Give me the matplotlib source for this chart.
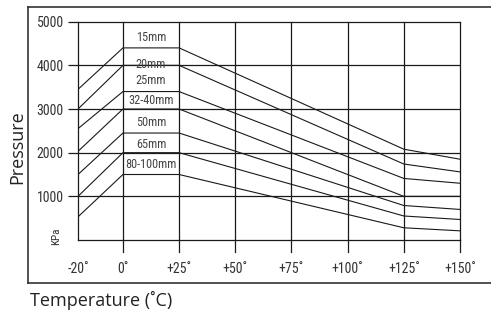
import matplotlib.pyplot as plt
from matplotlib.lines import Line2D

# temperature points (deg C)
temps = [-20, 0, 25, 125, 150]
tick_temps = [-20, 0, 25, 50, 75, 100, 125, 150]
tick_labels = ["-20˚", "0˚", "+25˚", "+50˚", "+75˚", "+100˚", "+125˚", "+150˚"]

# pressure (kPa) per pipe size
sizes = ["15mm", "20mm", "25mm", "32-40mm", "50mm", "65mm", "80-100mm"]
p_15 = [3450, 4400, 4400, 2080, 1850]
p_20 = [3000, 4000, 4000, 1740, 1560]
p_25 = [2550, 3400, 3400, 1410, 1300]
p_32 = [2030, 3000, 3000, 1000, 1000]
p_50 = [1500, 2450, 2450, 790, 700]
p_65 = [1000, 2000, 2000, 550, 470]
p_80 = [530, 1500, 1500, 280, 210]
series = [p_15, p_20, p_25, p_32, p_50, p_65, p_80]
label_y = [4630, 4030, 3660, 3190, 2700, 2180, 1720]

cond = ["Roboto Condensed", "DejaVu Sans"]
txt = "#333333"

fig = plt.figure(figsize=(4.91, 3.14), dpi=100)
ax = fig.add_axes([78 / 491, 1 - 240 / 314, 382 / 491, 218.3 / 314])

for vals in series:
    ax.plot(temps, vals, color="#1a1a1a", lw=0.8)

for t in tick_temps[1:-1]:
    ax.plot([t, t], [-275, 5000], color="#1a1a1a", lw=0.9, clip_on=False)
ax.plot([150, 150], [-275, 0], color="#1a1a1a", lw=0.9, clip_on=False)
for p in [1000, 2000, 3000, 4000]:
    ax.axhline(p, color="#1a1a1a", lw=0.9)

for s, y in zip(sizes, label_y):
    ax.text(12.5, y, s, ha="center", va="center", fontsize=8.8,
            family=cond, color="#444444")

ax.set_xlim(-20, 150)
ax.set_ylim(0, 5000)
for sp in ax.spines.values():
    sp.set_color("#1a1a1a")
    sp.set_linewidth(0.9)

ax.set_xticks(tick_temps)
ax.set_xticklabels(tick_labels, family=cond, fontsize=10, color=txt)
ax.tick_params(axis="x", length=0, pad=15.5)
ax.set_yticks([1000, 2000, 3000, 4000, 5000])
ax.set_yticklabels(["1000", "2000", "3000", "4000", "5000"], family=cond,
                   fontsize=10, color=txt)
ax.tick_params(axis="y", length=7.2, width=0.9, color="#1a1a1a", pad=3)

ax.text(-29.8, 75, "KPa", rotation=90, ha="center", va="center",
        fontsize=8, family=cond, color=txt, clip_on=False)

# outer frame, open on the right
fc = "#333333"
fig.add_artist(Line2D([28 / 491, 28 / 491], [1 - 283 / 314, 1 - 7 / 314],
                      color=fc, lw=1.2, transform=fig.transFigure))
fig.add_artist(Line2D([28 / 491, 1], [1 - 7 / 314, 1 - 7 / 314],
                      color=fc, lw=1.2, transform=fig.transFigure))
fig.add_artist(Line2D([28 / 491, 1], [1 - 283 / 314, 1 - 283 / 314],
                      color=fc, lw=1.2, transform=fig.transFigure))

fig.text(17 / 491, 1 - 147 / 314, "Pressure", rotation=90, ha="center",
         va="center", fontsize=13, family="Open Sans", color="#222222")
fig.text(30 / 491, 1 - 300 / 314, "Temperature (˚C)", ha="left", va="center",
         fontsize=13, family="Open Sans", color="#222222")

fig.savefig("out.png", dpi=100)
